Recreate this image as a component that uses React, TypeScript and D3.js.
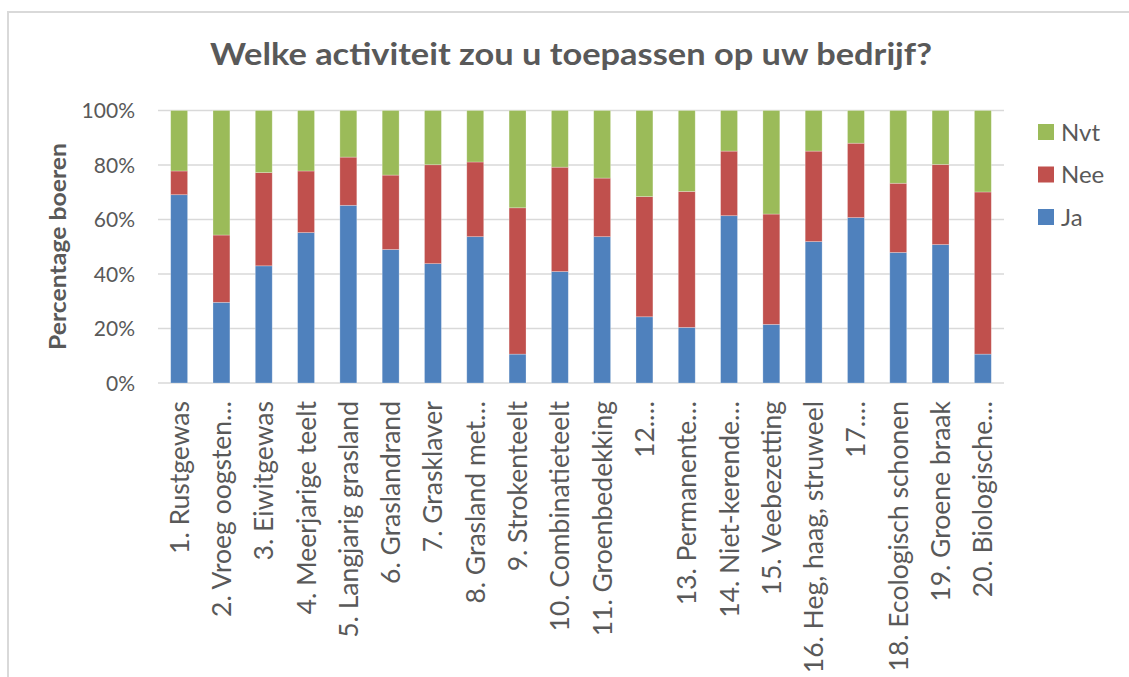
import React from "react";
import * as d3 from "d3";

const categories = [
  "1. Rustgewas",
  "2. Vroeg oogsten…",
  "3. Eiwitgewas",
  "4. Meerjarige teelt",
  "5. Langjarig grasland",
  "6. Graslandrand",
  "7. Grasklaver",
  "8. Grasland met…",
  "9. Strokenteelt",
  "10. Combinatieteelt",
  "11. Groenbedekking",
  "12.…",
  "13. Permanente…",
  "14. Niet-kerende…",
  "15. Veebezetting",
  "16. Heg, haag, struweel",
  "17.…",
  "18. Ecologisch schonen",
  "19. Groene braak",
  "20. Biologische…",
];

const ja = [69.1, 29.6, 43.0, 55.2, 65.2, 49.0, 43.8, 53.7, 10.6, 40.9, 53.7, 24.3, 20.4, 61.4, 21.5, 51.9, 60.7, 47.9, 50.8, 10.6];
const nee = [8.7, 24.7, 34.2, 22.6, 17.7, 27.3, 36.3, 27.4, 53.7, 38.3, 21.5, 44.1, 49.9, 23.7, 40.5, 33.2, 27.3, 25.4, 29.4, 59.5];
const nvt = [22.2, 45.7, 22.8, 22.2, 17.1, 23.7, 19.9, 18.9, 35.7, 20.8, 24.8, 31.6, 29.7, 14.9, 38.0, 14.9, 12.0, 26.7, 19.8, 29.9];

const seriesKeys = ["Ja", "Nee", "Nvt"];
const seriesColors = ["#4f81bd", "#c0504d", "#9bbb59"];
const yTicks = [0, 20, 40, 60, 80, 100];
const legendOrder = ["Nvt", "Nee", "Ja"];

const title = "Welke activiteit zou u toepassen op uw bedrijf?";
const yAxisTitle = "Percentage boeren";

const W = 1129;
const H = 677;
const textColor = "#595959";
const gridColor = "#d9d9d9";
const font = "Lato, 'Open Sans', sans-serif";

export default function App() {
  const rows = categories.map((c, i) => ({ cat: c, Ja: ja[i], Nee: nee[i], Nvt: nvt[i] }));
  const stacked = d3.stack<any>().keys(seriesKeys)(rows);

  const x = d3.scaleBand<string>().domain(categories).range([158, 1004]).paddingInner(0.6).paddingOuter(0.3);
  const y = d3.scaleLinear().domain([0, 100]).range([383, 110.5]);
  const color = d3.scaleOrdinal<string, string>().domain(seriesKeys).range(seriesColors);

  const legendY = d3.scalePoint<string>().domain(legendOrder).range([132, 217]);

  return (
    <svg width={W} height={H} style={{ position: "absolute", left: 0, top: 0, background: "#fff" }} fontFamily={font}>
      <rect x={0} y={0} width={W} height={H} fill="#fff" />
      <rect x={8} y={12} width={W + 20} height={H + 20} fill="none" stroke={gridColor} strokeWidth={2} />

      <text x={571} y={65} textAnchor="middle" fontSize={30} fontWeight="bold" fill={textColor} textLength={722} lengthAdjust="spacingAndGlyphs">
        {title}
      </text>

      {yTicks.map((t) => (
        <g key={t}>
          <line x1={158} x2={1004} y1={y(t)} y2={y(t)} stroke={gridColor} strokeWidth={1.5} />
          <text x={135} y={y(t)} dy="0.36em" textAnchor="end" fontSize={21} fill={textColor}>
            {t}%
          </text>
        </g>
      ))}

      <text
        transform={`translate(66, ${246.5}) rotate(-90)`}
        textAnchor="middle"
        fontSize={23}
        fontWeight="bold"
        fill={textColor}
        textLength={207}
        lengthAdjust="spacingAndGlyphs"
      >
        {yAxisTitle}
      </text>

      {stacked.map((s) => (
        <g key={s.key} fill={color(s.key)}>
          {s.map((d: any) => (
            <rect
              key={d.data.cat}
              x={x(d.data.cat)}
              width={x.bandwidth()}
              y={y(d[1])}
              height={y(d[0]) - y(d[1])}
              stroke="#ffffff"
              strokeOpacity={0.35}
              strokeWidth={0.75}
            />
          ))}
        </g>
      ))}

      {categories.map((c) => (
        <text
          key={c}
          transform={`translate(${(x(c) as number) + x.bandwidth() / 2}, 401) rotate(-90)`}
          dy="0.36em"
          textAnchor="end"
          fontSize={26.5}
          fill={textColor}
        >
          {c}
        </text>
      ))}

      {legendOrder.map((k) => (
        <g key={k} transform={`translate(1038, ${legendY(k)})`}>
          <rect x={0} y={-8} width={16} height={16} fill={color(k)} />
          <text x={23} y={0} dy="0.36em" fontSize={24} fill={textColor}>
            {k}
          </text>
        </g>
      ))}
    </svg>
  );
}
